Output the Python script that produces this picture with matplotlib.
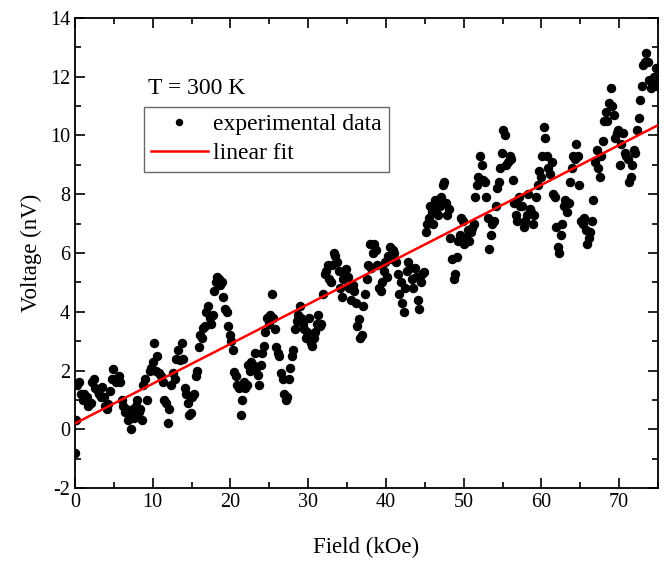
import numpy as np
import matplotlib
matplotlib.use('Agg')
import matplotlib.pyplot as plt
from matplotlib.ticker import MultipleLocator

plt.rcParams['font.family'] = ['Liberation Serif', 'DejaVu Serif']
plt.rcParams['axes.unicode_minus'] = False

# (field kOe, voltage nV)
field = [0, 0.1, 0.2, 0.5, 0.8, 1.0, 1.2, 1.5, 1.7, 2.0, 2.2, 2.4, 2.6, 2.9, 3.1, 3.3, 3.5, 3.7, 3.9, 4.1,
         4.3, 4.5, 4.7, 4.9, 5.1, 5.3, 5.6, 5.8, 6.0, 6.2, 6.4, 6.6, 6.8, 7.0, 7.2, 7.4, 7.6, 7.8, 8.0, 8.2,
         8.4, 8.6, 8.8, 9.0, 9.3, 9.6, 9.8, 10.0, 10.2, 10.4, 10.6, 10.8, 11.0, 11.3, 11.5, 11.7, 11.9, 12.1, 12.3, 12.6,
         12.9, 13.0, 13.3, 13.5, 13.7, 13.9, 14.1, 14.3, 14.5, 14.7, 14.9, 15.1, 15.3, 15.5, 15.7, 15.9, 16.1, 16.3, 16.5, 16.7,
         16.9, 17.1, 17.3, 17.5, 17.7, 17.9, 18.1, 18.3, 18.5, 18.7, 18.9, 19.1, 19.3, 19.5, 19.7, 19.9, 20.1, 20.3, 20.5, 20.7,
         20.9, 21.1, 21.3, 21.5, 21.7, 21.9, 22.1, 22.3, 22.5, 22.7, 22.9, 23.1, 23.3, 23.5, 23.7, 23.9, 24.1, 24.3, 24.5, 24.7,
         24.9, 25.1, 25.3, 25.5, 25.7, 25.9, 26.1, 26.3, 26.5, 26.7, 26.9, 27.1, 27.3, 27.5, 27.7, 27.9, 28.1, 28.3, 28.5, 28.7,
         28.9, 29.1, 29.3, 29.5, 29.7, 29.9, 30.1, 30.3, 30.5, 30.7, 30.9, 31.1, 31.3, 31.5, 31.7, 31.9, 32.1, 32.3, 32.5, 32.7,
         32.9, 33.1, 33.3, 33.5, 33.7, 33.9, 34.1, 34.3, 34.5, 34.7, 34.9, 35.1, 35.3, 35.5, 35.7, 35.9, 36.1, 36.3, 36.5, 36.7,
         36.9, 37.1, 37.3, 37.5, 37.7, 37.9, 38.1, 38.3, 38.5, 38.7, 38.9, 39.1, 39.3, 39.5, 39.7, 39.9, 40.1, 40.3, 40.5, 40.7,
         40.9, 41.1, 41.3, 41.5, 41.7, 41.9, 42.1, 42.3, 42.5, 42.7, 42.9, 43.1, 43.3, 43.5, 43.7, 43.9, 44.1, 44.3, 44.5, 44.7,
         44.9, 45.1, 45.3, 45.5, 45.7, 45.9, 46.1, 46.3, 46.5, 46.7, 46.9, 47.1, 47.3, 47.5, 47.7, 47.9, 48.1, 48.3, 48.5, 48.7,
         48.9, 49.1, 49.3, 49.5, 49.7, 49.9, 50.1, 50.3, 50.5, 50.7, 50.9, 51.1, 51.3, 51.5, 51.7, 51.9, 52.1, 52.3, 52.5, 52.7,
         52.9, 53.1, 53.3, 53.5, 53.7, 53.9, 54.1, 54.3, 54.5, 54.7, 54.9, 55.1, 55.3, 55.5, 55.7, 55.9, 56.1, 56.3, 56.5, 56.7,
         56.9, 57.1, 57.3, 57.5, 57.7, 57.9, 58.1, 58.3, 58.5, 58.7, 58.9, 59.1, 59.3, 59.5, 59.7, 59.9, 60.1, 60.3, 60.5, 60.7,
         60.9, 61.1, 61.3, 61.5, 61.7, 61.9, 62.1, 62.3, 62.5, 62.7, 62.9, 63.1, 63.3, 63.5, 63.7, 63.9, 64.1, 64.3, 64.5, 64.7,
         64.9, 65.1, 65.3, 65.5, 65.7, 65.9, 66.1, 66.3, 66.5, 66.7, 66.9, 67.1, 67.3, 67.5, 67.7, 67.9, 68.1, 68.3, 68.5, 68.7,
         68.9, 69.1, 69.3, 69.5, 69.7, 69.9, 70.1, 70.3, 70.5, 70.7, 70.9, 71.1, 71.3, 71.5, 71.7, 71.9, 72.1, 72.3, 72.5, 72.7,
         72.9, 73.1, 73.3, 73.5, 73.7, 73.9, 74.1, 74.3, 74.5, 74.7, 74.9]
voltage = [-0.8, 0.3, 1.5, 1.6, 1.2, 1.0, 1.2, 1.1, 0.8, 0.9, 1.6, 1.7, 1.4, 1.3, 1.2, 1.1, 1.45, 1.1, 0.8, 0.7,
           0.85, 1.3, 1.7, 2.05, 1.7, 1.6, 1.8, 1.6, 1.0, 0.8, 0.6, 0.7, 0.3, 0.5, 0.0, 0.7, 0.4, 0.8, 1.0, 0.6,
           0.7, 0.3, 1.5, 1.7, 1.0, 2.0, 2.1, 2.3, 2.95, 2.0, 2.5, 1.9, 1.8, 1.6, 1.0, 0.9, 0.2, 0.7, 1.5, 1.9,
           1.7, 2.4, 2.7, 2.35, 2.95, 2.4, 1.4, 1.2, 0.9, 0.5, 0.55, 1.1, 1.2, 1.8, 2.0, 2.8, 3.2, 3.1, 3.45, 3.5,
           4.0, 4.2, 3.8, 3.6, 3.9, 4.7, 5.0, 5.2, 5.1, 4.9, 5.0, 4.5, 4.1, 4.0, 3.5, 3.2, 3.0, 2.7, 1.95, 1.8,
           1.5, 1.4, 0.5, 1.0, 1.6, 1.4, 1.5, 2.2, 2.0, 2.3, 2.2, 2.6, 2.1, 1.85, 1.5, 2.2, 2.6, 2.85, 3.3, 3.8,
           3.6, 3.9, 4.6, 3.8, 3.4, 2.8, 2.6, 2.5, 1.9, 1.7, 1.2, 1.0, 1.1, 1.7, 2.1, 2.5, 2.7, 3.4, 3.7, 3.9,
           4.2, 3.8, 3.6, 3.4, 3.1, 3.3, 3.8, 2.95, 2.85, 3.1, 3.3, 3.6, 3.9, 3.5, 3.6, 4.6, 5.3, 5.4, 5.6, 5.1,
           5.0, 5.6, 6.0, 5.9, 5.7, 5.4, 4.8, 4.5, 5.1, 5.3, 5.45, 5.2, 4.8, 4.4, 4.9, 4.7, 4.3, 3.5, 3.75, 3.1,
           3.2, 4.2, 4.6, 5.1, 5.6, 6.3, 5.5, 6.0, 6.3, 6.1, 5.6, 4.8, 4.7, 5.0, 5.4, 5.7, 5.2, 5.9, 6.2, 5.8,
           6.1, 6.0, 5.7, 5.3, 4.6, 5.0, 4.3, 4.0, 4.8, 5.4, 5.7, 5.5, 5.1, 4.8, 5.5, 5.2, 4.4, 4.1, 5.0, 5.3,
           5.35, 6.7, 7.0, 7.2, 7.6, 7.4, 7.0, 7.8, 7.5, 7.3, 7.6, 7.9, 8.3, 8.4, 7.7, 7.3, 7.5, 6.5, 5.8, 5.1,
           5.3, 5.85, 6.4, 6.6, 7.2, 7.1, 6.3, 6.5, 6.8, 6.4, 6.7, 6.85, 7.0, 7.9, 8.3, 8.6, 9.3, 9.0, 8.5, 8.4,
           7.9, 7.2, 6.15, 6.6, 7.0, 7.1, 7.6, 8.2, 8.4, 8.9, 9.4, 10.2, 10.0, 9.0, 9.1, 9.3, 9.2, 8.5, 7.7, 7.3,
           7.1, 7.9, 7.6, 7.6, 6.9, 7.1, 7.3, 8.0, 7.5, 7.4, 7.0, 7.3, 7.9, 8.3, 8.8, 8.6, 9.3, 10.3, 9.9, 9.3,
           8.9, 8.7, 9.1, 8.0, 7.9, 6.9, 6.2, 6.0, 6.6, 7.0, 7.6, 7.8, 7.4, 7.7, 8.4, 8.9, 9.3, 9.2, 9.7, 9.3,
           8.3, 7.1, 7.0, 7.2, 6.8, 6.3, 6.5, 6.7, 7.1, 7.8, 9.1, 9.5, 8.9, 8.6, 9.3, 9.8, 10.5, 10.8, 10.5, 11.1,
           11.6, 11.0, 10.7, 9.9, 10.1, 10.2, 9.0, 9.7, 10.1, 9.4, 9.3, 9.2, 8.4, 8.6, 9.0, 9.5, 9.4, 10.2, 10.6, 11.2,
           11.7, 12.4, 12.5, 12.8, 12.5, 11.9, 11.6, 11.8, 12.0, 12.3, 11.7]

# linear fit
fit_x = [0, 75]
fit_y = [0.2, 10.35]

fig = plt.figure(figsize=(6.67, 5.61), dpi=100)
ax = fig.add_axes([0.1125, 0.130, 0.874, 0.838])

ax.plot(field, voltage, 'o', color='black', markersize=5.8, label='experimental data', zorder=2)
ax.plot(fit_x, fit_y, '-', color='red', linewidth=1.8, label='linear fit', zorder=3)

ax.set_xlim(0, 75)
ax.set_ylim(-2, 14)
ax.xaxis.set_major_locator(MultipleLocator(10))
ax.xaxis.set_minor_locator(MultipleLocator(5))
ax.yaxis.set_major_locator(MultipleLocator(2))
ax.yaxis.set_minor_locator(MultipleLocator(1))
ax.tick_params(which='both', direction='in', top=True, right=True, width=1.2, labelsize=14.5)
ax.tick_params(which='major', length=7)
ax.tick_params(which='minor', length=4)
for s in ax.spines.values():
    s.set_linewidth(1.3)

ax.set_xlabel('Field (kOe)', fontsize=16.5, labelpad=18)
ax.set_ylabel('Voltage (nV)', fontsize=16.5, labelpad=6)

ax.text(9.4, 11.6, 'T = 300 K', fontsize=17, va='center')
leg = ax.legend(loc='upper left', bbox_to_anchor=(0.118, 0.811), fontsize=17, frameon=True,
                fancybox=False, edgecolor='#444444', borderpad=0.3, handlelength=2.4,
                labelspacing=0.32, handletextpad=0.25, borderaxespad=0, markerscale=0.75)
leg.get_frame().set_linewidth(1.0)

plt.savefig('out.png', dpi=100)
